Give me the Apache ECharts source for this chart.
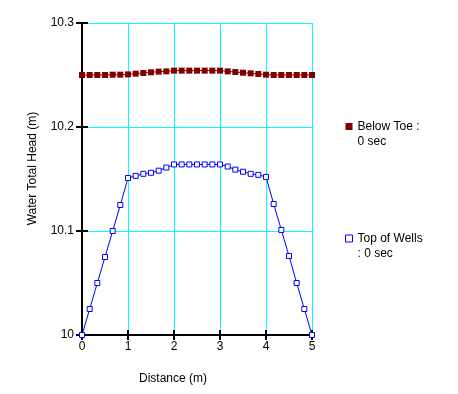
<!DOCTYPE html>
<html>
<head>
<meta charset="utf-8">
<script src="https://cdn.jsdelivr.net/npm/echarts@6/dist/echarts.min.js"></script>
<style>
html,body{margin:0;padding:0;background:#fff;}
#chart{width:458px;height:394px;}
</style>
</head>
<body>
<div id="chart"></div>
<script>
var distance = [0,0.167,0.333,0.5,0.667,0.833,1,1.167,1.333,1.5,1.667,1.833,2,2.167,2.333,2.5,2.667,2.833,3,3.167,3.333,3.5,3.667,3.833,4,4.167,4.333,4.5,4.667,4.833,5];
var belowToe = [10.250,10.250,10.250,10.250,10.2503,10.2503,10.2506,10.2513,10.2519,10.2526,10.2532,10.2535,10.2542,10.2542,10.2542,10.2542,10.2542,10.2542,10.2542,10.2535,10.2529,10.2522,10.2516,10.2510,10.2503,10.250,10.250,10.250,10.250,10.250,10.250];
var topOfWells = [10.0,10.025,10.05,10.075,10.1,10.125,10.151,10.153,10.155,10.156,10.158,10.161,10.164,10.164,10.164,10.164,10.164,10.164,10.164,10.162,10.159,10.157,10.155,10.154,10.152,10.126,10.101,10.076,10.05,10.025,10.0];
var seriesNames = ['Below Toe :\n0 sec', 'Top of Wells\n: 0 sec'];
var xTitle = 'Distance (m)';
var yTitle = 'Water Total Head (m)';

function pairs(xs, ys){ return xs.map(function(x,i){ return [x, ys[i]]; }); }

var font = 'Liberation Sans, Arial, sans-serif';
var chart = echarts.init(document.getElementById('chart'));
chart.setOption({
  animation: false,
  backgroundColor: '#fff',
  textStyle: {fontFamily: font},
  grid: {left: 82, right: 146, top: 23, bottom: 59},
  legend: {
    orient: 'vertical', left: 345, top: 104, padding: 0,
    itemWidth: 7, itemHeight: 7, itemGap: 67,
    icon: 'rect',
    formatter: function(name){ return '\n' + name; },
    textStyle: {fontSize: 12, color: '#000', fontFamily: font, lineHeight: 15},
    data: [
      {name: seriesNames[0], itemStyle: {color: '#800000', borderWidth: 0}},
      {name: seriesNames[1], itemStyle: {color: '#fff', borderColor: '#0000ff', borderWidth: 1}}
    ]
  },
  xAxis: [{
    type: 'value', min: 0, max: 5, interval: 1,
    name: xTitle, nameLocation: 'middle', nameGap: 38,
    nameTextStyle: {fontSize: 12, color: '#000', fontFamily: font, padding: [0, 48, 0, 0]},
    axisLine: {onZero: false, lineStyle: {color: '#000', width: 2}},
    axisTick: {length: 5, lineStyle: {color: '#000', width: 2}},
    axisLabel: {fontSize: 12, color: '#000', margin: 6, fontFamily: font},
    splitLine: {show: true, lineStyle: {color: '#00ffff', width: 1}}
  }, {
    type: 'value', min: 0, max: 5, interval: 1, position: 'bottom', offset: 0,
    axisLine: {show: false},
    axisTick: {inside: true, length: 5, lineStyle: {color: '#000', width: 2}},
    axisLabel: {show: false}, splitLine: {show: false}
  }],
  yAxis: [{
    type: 'value', min: 10, max: 10.3, interval: 0.1,
    name: yTitle, nameLocation: 'middle', nameGap: 43,
    nameTextStyle: {fontSize: 12, color: '#000', fontFamily: font, padding: [0, 0, 0, 21]},
    axisLine: {onZero: false, lineStyle: {color: '#000', width: 2}},
    axisTick: {length: 6, lineStyle: {color: '#000', width: 2}},
    axisLabel: {fontSize: 12, color: '#000', margin: 8, fontFamily: font},
    splitLine: {show: true, lineStyle: {color: '#00ffff', width: 1}}
  }, {
    type: 'value', min: 10, max: 10.3, interval: 0.1, position: 'left', offset: 0,
    axisLine: {show: false},
    axisTick: {inside: true, length: 6, lineStyle: {color: '#000', width: 2}},
    axisLabel: {show: false}, splitLine: {show: false}
  }],
  series: [{
    name: seriesNames[0], type: 'line', xAxisIndex: 0, yAxisIndex: 0,
    data: pairs(distance, belowToe),
    symbol: 'rect', symbolSize: 6,
    itemStyle: {color: '#800000'},
    lineStyle: {color: '#800000', width: 1}
  }, {
    name: seriesNames[1], type: 'line', xAxisIndex: 0, yAxisIndex: 0,
    data: pairs(distance, topOfWells),
    symbol: 'rect', symbolSize: 5,
    itemStyle: {color: '#fff', borderColor: '#0000ff', borderWidth: 1},
    lineStyle: {color: '#0000ff', width: 1}
  }]
});
</script>
</body>
</html>
